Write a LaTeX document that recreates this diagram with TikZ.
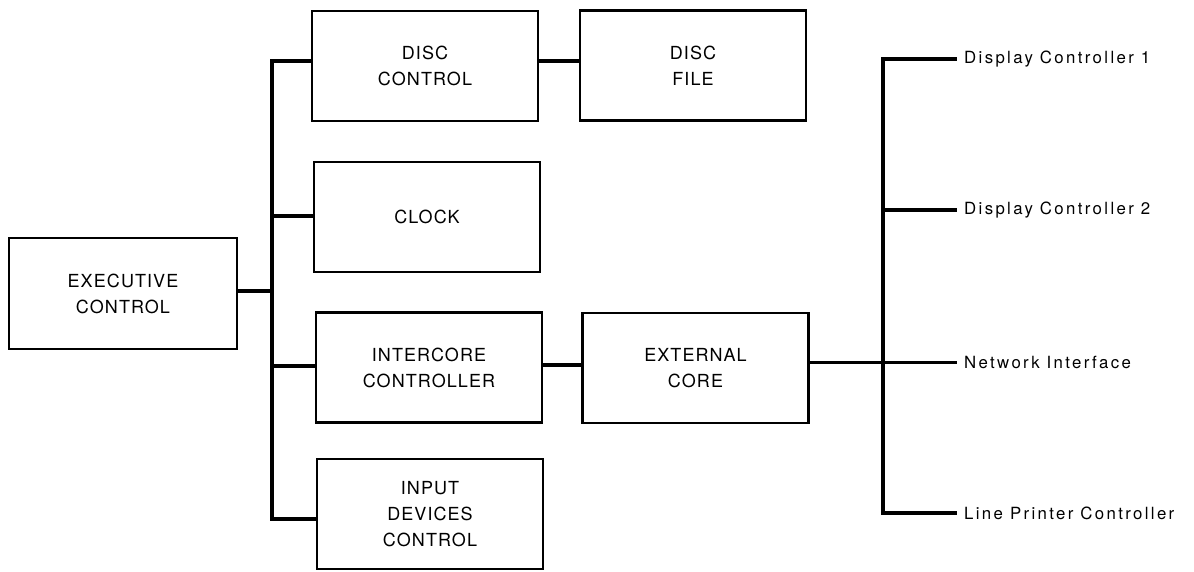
\documentclass[tikz,border=0pt]{standalone}
\usepackage{fontspec}
\setmainfont{TeX Gyre Heros}
\newfontfamily\boxfont{TeX Gyre Heros}[LetterSpace=6]
\newfontfamily\labfont{TeX Gyre Heros}[LetterSpace=14]
\begin{document}
\begin{tikzpicture}[x=1pt,y=-1pt,
  box/.style={draw, line width=2.2pt, minimum width=226pt, minimum height=110pt,
    align=center, inner sep=0pt, font=\boxfont\fontsize{18}{26}\selectfont},
  bus/.style={line width=3.6pt, line cap=rect},
  link/.style={line width=3.4pt},
  netlink/.style={line width=3pt},
  lab/.style={anchor=west, inner xsep=7pt, inner ysep=0pt, font=\labfont\fontsize{16.8}{20}\selectfont}]
\useasboundingbox (0,0) rectangle (1194,571);
% boxes
\node[box, minimum width=228pt, minimum height=111pt] (ex) at (123,293.5) {EXECUTIVE\\CONTROL};
\node[box] (dc) at (425,66) {DISC\\CONTROL};
\node[box] (df) at (693,65.5) {DISC\\FILE};
\node[box] (ck) at (427,217) {CLOCK};
\node[box] (ic) at (429,367.5) {INTERCORE\\CONTROLLER};
\node[box] (ec) at (695.5,368) {EXTERNAL\\CORE};
\node[box] (in) at (430,514) {INPUT\\DEVICES\\CONTROL};
% left bus
\coordinate (lt) at (272,61);
\coordinate (lb) at (272,519);
\coordinate (le) at (272,291);
\coordinate (lc) at (272,216);
\coordinate (li) at (272,366);
\draw[bus] (lt) -- (lb);
\draw[link] (ex.east |- le) -- (le);
\draw[link] (lt) -- (lt -| dc.west);
\draw[link] (lc) -- (lc -| ck.west);
\draw[link] (li) -- (li -| ic.west);
\draw[link] (lb) -- (lb -| in.west);
\draw[link] (dc.east |- lt) -- (df.west |- lt);
\draw[link] (ic.east |- 0,365) -- (ec.west |- 0,365);
% right bus
\node[lab] (d1) at (957,59) {Display Controller 1};
\node[lab] (d2) at (957,210) {Display Controller 2};
\node[lab] (ni) at (957,362) {Network Interface};
\node[lab] (lp) at (957,513) {Line Printer Controller};
\coordinate (rt) at (883,59);
\coordinate (rm) at (883,210);
\coordinate (rb) at (883,513);
\draw[bus] (rt) -- (rb);
\draw[link] (rt) -- (d1.west);
\draw[link] (rm) -- (d2.west);
\draw[netlink] (ec.east |- ni.west) -- (ni.west);
\draw[link] (rb) -- (lp.west);
\end{tikzpicture}
\end{document}
